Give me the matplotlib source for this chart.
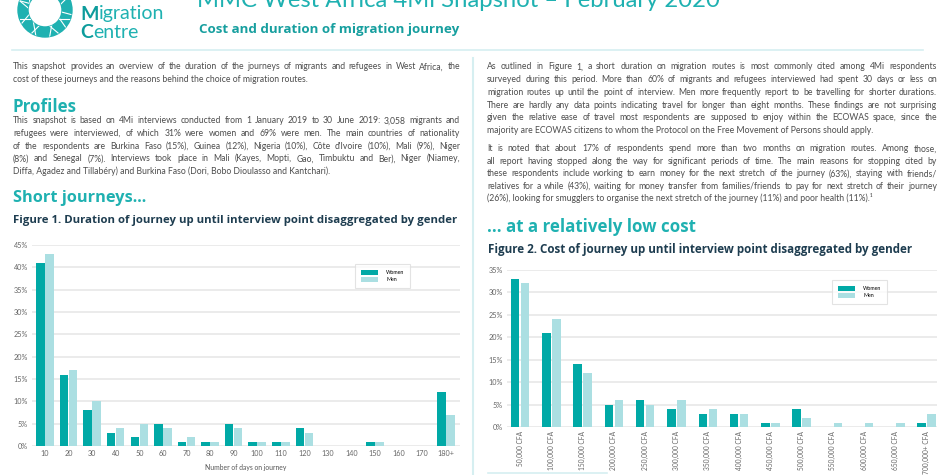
import matplotlib.pyplot as plt
import numpy as np
from matplotlib.patches import Wedge

# data
days = ['10', '20', '30', '40', '50', '60', '70', '80', '90', '100',
        '110', '120', '130', '140', '150', '160', '170', '180+']
days_women = [41, 16, 8, 3, 2, 5, 1, 1, 5, 1, 1, 4, 0, 0, 1, 0, 0, 12]
days_men = [43, 17, 10, 4, 5, 4, 2, 1, 4, 1, 1, 3, 0, 0, 1, 0, 0, 7]

costs = ['50,000 CFA', '100,000 CFA', '150,000 CFA', '200,000 CFA', '250,000 CFA',
         '300,000 CFA', '350,000 CFA', '400,000 CFA', '450,000 CFA', '500,000 CFA',
         '550,000 CFA', '600,000 CFA', '650,000 CFA', '700,000+ CFA']
cost_women = [33, 21, 14, 5, 6, 4, 3, 3, 1, 4, 0, 0, 0, 1]
cost_men = [32, 24, 12, 6, 5, 6, 4, 3, 1, 2, 1, 1, 1, 3]

intro = [
    "This snapshot provides an overview of the duration of the journeys of migrants and refugees in West Africa, the",
    "cost of these journeys and the reasons behind the choice of migration routes.",
]
profiles = [
    "This snapshot is based on 4Mi interviews conducted from 1 January 2019 to 30 June 2019: 3,058 migrants and",
    "refugees were interviewed, of which 31% were women and 69% were men. The main countries of nationality",
    "of the respondents are Burkina Faso (15%), Guinea (12%), Nigeria (10%), Côte d'Ivoire (10%), Mali (9%), Niger",
    "(8%) and Senegal (7%). Interviews took place in Mali (Kayes, Mopti, Gao, Timbuktu and Ber), Niger (Niamey,",
    "Diffa, Agadez and Tillabéry) and Burkina Faso (Dori, Bobo Dioulasso and Kantchari).",
]
para1 = [
    "As outlined in Figure 1, a short duration on migration routes is most commonly cited among 4Mi respondents",
    "surveyed during this period. More than 60% of migrants and refugees interviewed had spent 30 days or less on",
    "migration routes up until the point of interview. Men more frequently report to be travelling for shorter durations.",
    "There are hardly any data points indicating travel for longer than eight months. These findings are not surprising",
    "given the relative ease of travel most respondents are supposed to enjoy within the ECOWAS space, since the",
    "majority are ECOWAS citizens to whom the Protocol on the Free Movement of Persons should apply.",
]
para2 = [
    "It is noted that about 17% of respondents spend more than two months on migration routes.  Among those,",
    "all report having stopped along the way for significant periods of time. The main reasons for stopping cited by",
    "these respondents include working to earn money for the next stretch of the journey (63%), staying with friends/",
    "relatives for a while (43%), waiting for money transfer from families/friends to pay for next stretch of their journey",
    "(26%), looking for smugglers to organise the next stretch of the journey (11%) and poor health (11%).¹",
]

W, H = 950, 475
TEAL = '#1fb1b1'
WOMEN = '#00a9a6'
MEN = '#abdfe2'
NAVY = '#1e3d50'
BODY = '#4d4d4d'
GRID = '#e9e9e9'
RULE = '#d6eff1'
HEAD = ['Open Sans', 'DejaVu Sans']

plt.rcParams['font.family'] = ['Lato', 'DejaVu Sans']

fig = plt.figure(figsize=(W / 100, H / 100), dpi=100)
fig.patch.set_facecolor('white')

# background axes in pixel units (y down)
bg = fig.add_axes([0, 0, 1, 1], zorder=0)
bg.set_xlim(0, W)
bg.set_ylim(H, 0)
bg.axis('off')
renderer = fig.canvas.get_renderer()


def justified(x, y, lines, width, lh, size=6.2, color=BODY):
    # y is the middle of the first line; words sit on a common baseline
    for i, line in enumerate(lines):
        yy = y + i * lh + 2.4
        words = line.split()
        if i == len(lines) - 1 or len(words) < 2:
            bg.text(x, yy, line, fontsize=size, color=color, va='baseline')
            continue
        objs = [bg.text(0, yy, w, fontsize=size, color=color, va='baseline') for w in words]
        widths = [o.get_window_extent(renderer).width for o in objs]
        gap = (width - sum(widths)) / (len(words) - 1)
        cx = x
        for o, wd in zip(objs, widths):
            o.set_x(cx)
            cx += wd + gap


# header
logo = Wedge((45, 10), 27, 0, 360, width=10, color=TEAL)
bg.add_patch(logo)
for a, b in [(10, 200), (40, 250), (80, 300), (120, 330), (160, 20), (200, 60), (230, 110), (290, 150)]:
    ta, tb = np.radians(a), np.radians(b)
    ln, = bg.plot([45 + 27 * np.cos(ta), 45 + 27 * np.cos(tb)],
                  [10 + 27 * np.sin(ta), 10 + 27 * np.sin(tb)], color='white', lw=0.8)
    ln.set_clip_path(logo)

t = bg.text(80, 14, 'M', fontsize=14, color='#0d9c9c', fontweight='bold', va='center')
bg.text(80 + t.get_window_extent(renderer).width, 14, 'igration', fontsize=14, color=TEAL, va='center')
t = bg.text(80, 33, 'C', fontsize=14, color='#0d9c9c', fontweight='bold', va='center')
bg.text(80 + t.get_window_extent(renderer).width, 33, 'entre', fontsize=14, color=TEAL, va='center')

bg.text(197, 7, 'MMC West Africa 4Mi Snapshot – February 2020', fontsize=17.2, color=TEAL, va='baseline')
bg.text(199, 30, 'Cost and duration of migration journey', fontsize=9.6, color='#179f9f',
        fontweight='bold', va='center', family=HEAD)
bg.plot([12, 923], [50, 50], color=RULE, lw=1.2)
bg.plot([473, 473], [58, H], color=RULE, lw=1.5)
bg.plot([488, 607], [473, 473], color=RULE, lw=1.2)

# left column text
justified(13, 67, intro, 447, 13)
bg.text(13, 107, 'Profiles', fontsize=12.2, color=TEAL, fontweight='bold', va='center', family=HEAD)
justified(13, 121, profiles, 447, 12.6)
bg.text(13, 198, 'Short journeys...', fontsize=11.8, color=TEAL, fontweight='bold', va='center', family=HEAD)
bg.text(13, 220, 'Figure 1. Duration of journey up until interview point disaggregated by gender',
        fontsize=8.2, color=NAVY, fontweight='bold', va='center', family=HEAD)

# right column text
justified(487, 67, para1, 450, 12.7)
justified(487, 149, para2, 450, 12.5)
bg.text(487, 227, '... at a relatively low cost', fontsize=12.2, color=TEAL, fontweight='bold', va='center',
        family=HEAD)
bg.text(488, 249, 'Figure 2. Cost of journey up until interview point disaggregated by gender',
        fontsize=8.35, color=NAVY, fontweight='bold', va='center', family=HEAD)


def bar_chart(rect, labels, women, men, ymax, width, offset, rot, xlim, legend_at, xsize, xlabel=None):
    ax = fig.add_axes(rect, zorder=2)
    ax.set_facecolor('none')
    x = np.arange(len(labels))
    ax.bar(x - offset, women, width, color=WOMEN, label='Women', zorder=3)
    ax.bar(x + offset, men, width, color=MEN, label='Men', zorder=3)
    ax.set_ylim(0, ymax)
    ax.set_xlim(*xlim)
    ax.set_yticks(np.arange(0, ymax + 1, 5))
    ax.set_yticklabels([f'{v}%' for v in range(0, ymax + 1, 5)])
    ax.set_xticks(x)
    ax.set_xticklabels(labels, rotation=rot, va='top', ha='center')
    ax.grid(axis='y', color=GRID, lw=1.3, zorder=0)
    for s in ax.spines.values():
        s.set_visible(False)
    ax.tick_params(length=0, labelsize=5.2, labelcolor='#666666', pad=3)
    ax.tick_params(axis='x', labelsize=xsize)
    if xlabel:
        ax.set_xlabel(xlabel, fontsize=4.9, color='#555555', labelpad=5)
    leg = ax.legend(loc='upper left', bbox_to_anchor=legend_at, fontsize=3.8, frameon=True,
                    fancybox=False, handlelength=3.2, handleheight=1.1, borderpad=1.1,
                    labelspacing=0.35, handletextpad=1.6, borderaxespad=0)
    leg.get_frame().set_edgecolor('#dddddd')
    leg.get_frame().set_linewidth(0.8)
    return ax


bar_chart([32 / W, 1 - 446 / H, 428 / W, 201 / H], days, days_women, days_men, 45,
          0.36, 0.19, 0, (-0.55, 17.6), (0.755, 0.905), 5.2, xlabel='Number of days on journey')
bar_chart([507 / W, 1 - 427 / H, 430 / W, 157 / H], costs, cost_women, cost_men, 35,
          0.27, 0.16, 90, (-0.42, 13.33), (0.756, 0.936), 4.8)

fig.savefig('out.png', dpi=100, facecolor='white')
